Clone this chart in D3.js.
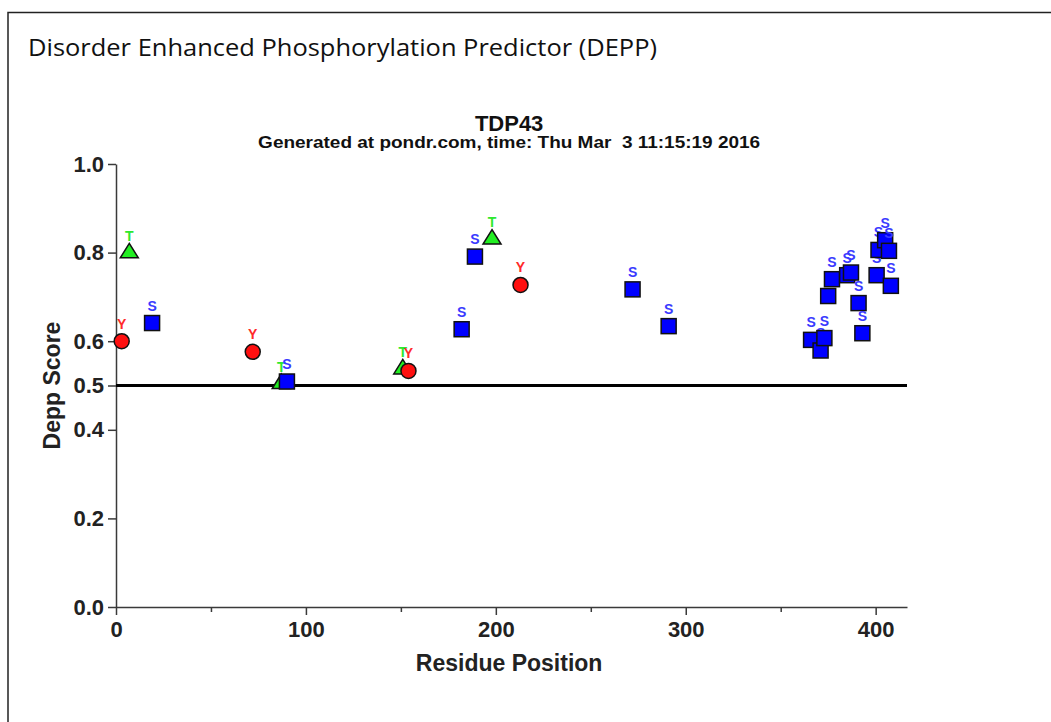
<!DOCTYPE html>
<html>
<head>
<meta charset="utf-8">
<script src="https://cdn.jsdelivr.net/npm/d3@7"></script>
<style>
  body { margin: 0; background: #fff; }
  text { font-family: "Liberation Sans", Arial, sans-serif; }
</style>
</head>
<body>
<svg id="chart"></svg>
<script>
const WIDTH = 1051, HEIGHT = 722;

// sitios predichos (posicion del residuo, puntaje DEPP)
const serinePos   = [19, 90, 182, 189, 272, 291, 366, 371, 373, 375, 377, 385, 387, 391, 393, 400.5, 401.5, 405, 407, 408];
const serineScore = [0.641, 0.509, 0.627, 0.791, 0.717, 0.634, 0.603, 0.579, 0.607, 0.702, 0.740, 0.749, 0.755, 0.686, 0.618, 0.749, 0.806, 0.828, 0.804, 0.725];
const threoninePos   = [7, 87, 151, 198];
const threonineScore = [0.804, 0.509, 0.542, 0.835];
const tyrosinePos   = [3, 72, 154, 213];
const tyrosineScore = [0.600, 0.576, 0.533, 0.727];

const xMajorTicks = [0, 100, 200, 300, 400];
const xMinorTicks = [50, 150, 250, 350];
const yTicks = [0.0, 0.2, 0.4, 0.5, 0.6, 0.8, 1.0];
const threshold = 0.5;

const margin = { top: 164, left: 116, right: 144, bottom: 115 };
const width = WIDTH - margin.left - margin.right,
      height = HEIGHT - margin.top - margin.bottom;

const svg = d3.select('svg#chart')
              .attr('width', WIDTH)
              .attr('height', HEIGHT);

svg.append('rect').attr('width', WIDTH).attr('height', HEIGHT).attr('fill', 'white');

// marco del documento
svg.append('path')
   .attr('d', `M8,${HEIGHT + 5} L8,12.5 L${WIDTH + 5},12.5`)
   .attr('fill', 'none')
   .attr('stroke', '#222')
   .attr('stroke-width', 1.5);

svg.append('text')
   .attr('x', 28).attr('y', 56)
   .attr('textLength', 629).attr('lengthAdjust', 'spacingAndGlyphs')
   .style('font-family', '"Open Sans", "Noto Sans", sans-serif')
   .style('font-size', '24px')
   .attr('fill', '#111')
   .text('Disorder Enhanced Phosphorylation Predictor (DEPP)');

const x = d3.scaleLinear().domain([0, 416.5]).range([0, width]);
const y = d3.scaleLinear().domain([0, 1]).range([height, 0]);

const chart = svg.append('g')
                 .attr('transform', `translate(${margin.left}, ${margin.top})`);

chart.append('text')
     .attr('x', x(207)).attr('y', -33)
     .style('text-anchor', 'middle')
     .style('font-size', '22px').style('font-weight', 'bold')
     .attr('fill', '#111')
     .text('TDP43');

chart.append('text')
     .attr('x', x(207)).attr('y', -16)
     .style('text-anchor', 'middle')
     .style('font-size', '16px').style('font-weight', 'bold')
     .attr('textLength', 502).attr('lengthAdjust', 'spacingAndGlyphs')
     .style('white-space', 'pre')
     .attr('fill', '#111')
     .text('Generated at pondr.com, time: Thu Mar  3 11:15:19 2016');

// ejes
chart.append('g')
     .call(d3.axisLeft(y).tickValues(yTicks).tickFormat(d3.format('.1f')).tickSize(8).tickSizeOuter(0).tickPadding(4));

chart.append('g')
     .attr('transform', `translate(0, ${height})`)
     .call(d3.axisBottom(x).tickValues(xMajorTicks).tickSize(8).tickSizeOuter(0).tickPadding(6));

chart.append('g')
     .attr('transform', `translate(0, ${height})`)
     .call(d3.axisBottom(x).tickValues(xMinorTicks).tickSize(5).tickFormat(''))
     .select('.domain').remove();

chart.selectAll('.domain, .tick line')
     .attr('stroke', '#3a3a3a')
     .attr('stroke-width', 1.5);

chart.selectAll('.tick text')
     .attr('fill', '#222')
     .style('font-size', '22px')
     .style('font-weight', 'bold')
     .style('font-family', '"Liberation Sans", Arial, sans-serif');

chart.append('text')
     .attr('transform', `translate(${-56}, ${y(0.5)}) rotate(-90)`)
     .style('text-anchor', 'middle')
     .style('font-size', '23px').style('font-weight', 'bold')
     .attr('fill', '#222')
     .text('Depp Score');

chart.append('text')
     .attr('x', x(207)).attr('y', height + 64)
     .style('text-anchor', 'middle')
     .style('font-size', '23px').style('font-weight', 'bold')
     .attr('fill', '#222')
     .text('Residue Position');

// linea de umbral
chart.append('line')
     .attr('x1', x(0)).attr('x2', x(416.5))
     .attr('y1', y(threshold)).attr('y2', y(threshold))
     .attr('stroke', 'black')
     .attr('stroke-width', 3);

// juntar los sitios y ordenarlos por posicion (los de mas a la derecha quedan encima)
const sites = []
    .concat(serinePos.map((p, i) => ({ pos: p, score: serineScore[i], aa: 'S' })))
    .concat(threoninePos.map((p, i) => ({ pos: p, score: threonineScore[i], aa: 'T' })))
    .concat(tyrosinePos.map((p, i) => ({ pos: p, score: tyrosineScore[i], aa: 'Y' })))
    .sort((a, b) => a.pos - b.pos);

const fillColor  = { S: '#0000ff', T: '#22ee22', Y: '#ff1010' };
const labelColor = { S: '#3a3aff', T: '#2ee82e', Y: '#ff2a2a' };

const site = chart.selectAll('g.site')
     .data(sites)
     .join('g')
       .attr('class', 'site')
       .attr('transform', (d) => `translate(${x(d.pos)}, ${y(d.score)})`);

site.each(function (d) {
    const g = d3.select(this);
    if (d.aa === 'S') {
        g.append('rect')
         .attr('x', -7.5).attr('y', -7.5)
         .attr('width', 15).attr('height', 15);
    } else if (d.aa === 'Y') {
        g.append('circle').attr('r', 7.5);
    } else {
        g.append('path').attr('d', 'M0,-7.5 L9,7 L-9,7 Z');
    }
    g.select(':first-child')
     .attr('fill', fillColor[d.aa])
     .attr('stroke', '#111')
     .attr('stroke-width', 1.5);
    g.append('text')
     .attr('y', d.aa === 'T' ? -10 : -12.5)
     .style('text-anchor', 'middle')
     .style('font-size', '14px')
     .style('font-weight', 'bold')
     .attr('fill', labelColor[d.aa])
     .text(d.aa);
});
</script>
</body>
</html>
